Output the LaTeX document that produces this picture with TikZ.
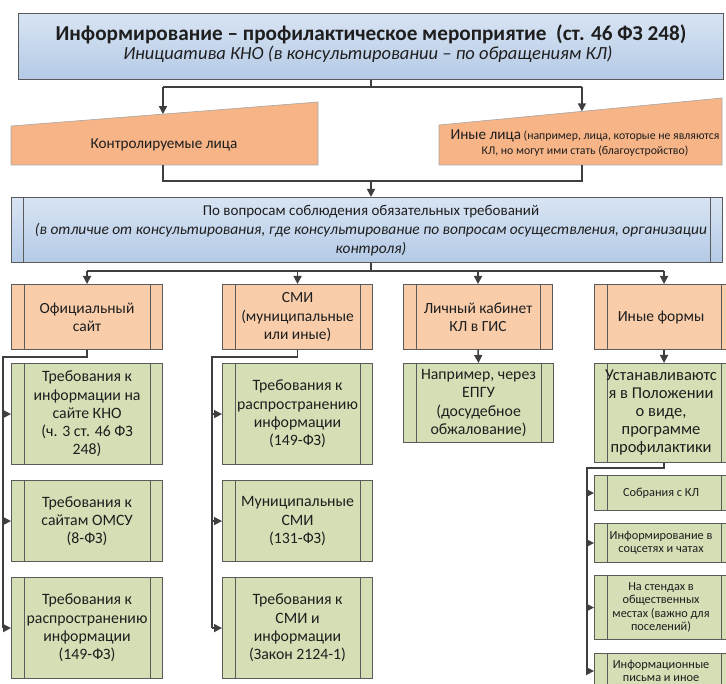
\documentclass[tikz,border=0pt]{standalone}
\usepackage{fontspec}
\setmainfont{Carlito}
\usetikzlibrary{arrows.meta,calc}
\definecolor{lineC}{HTML}{3F3F3F}
\definecolor{blueT}{HTML}{D8E4F3}
\definecolor{blueB}{HTML}{B4CAE6}
\definecolor{trapC}{HTML}{F6B487}
\definecolor{headC}{HTML}{F9CDAA}
\definecolor{greenC}{HTML}{D5DFB5}
\definecolor{txtC}{HTML}{1E1E1E}
\definecolor{bordC}{HTML}{5A5A5A}
\tikzset{
  conn/.style={draw=lineC, line width=1.6pt},
  arr/.style={conn, -{Triangle[length=8pt,width=8pt]}},
  proc/.style={draw=bordC, line width=1.1pt, rectangle, anchor=north west,
    inner sep=0pt, align=center, text=txtC,
    path picture={\draw[bordC, line width=1.1pt]
      ([xshift=12.5pt]path picture bounding box.north west) -- ([xshift=12.5pt]path picture bounding box.south west)
      ([xshift=-12.5pt]path picture bounding box.north east) -- ([xshift=-12.5pt]path picture bounding box.south east);}},
  bluebox/.style={draw=bordC, line width=1.1pt, rectangle, anchor=north west, inner sep=0pt,
    top color=blueT, bottom color=blueB},
  headbox/.style={proc, fill=headC, font={\fontsize{15.5}{18.3}\selectfont}},
  greenbox/.style={proc, fill=greenC, font={\fontsize{15.8}{18.3}\selectfont}},
  smallbox/.style={proc, fill=greenC, font={\fontsize{12.3}{13.5}\selectfont}},
  trap/.style={fill=trapC, draw=gray!70, line width=0.6pt},
  lbl/.style={text=txtC, align=center, inner sep=0pt},
}
\begin{document}
\begin{tikzpicture}[x=1pt, y=-1pt]
\clip (0,0) rectangle (726,684);
% header
\node[bluebox, minimum width=705pt, minimum height=66pt] (hdr) at (18,13) {};
\node[lbl, font={\fontsize{21.2}{23}\selectfont\bfseries}] (title) at (371,34)
  {Информирование – профилактическое мероприятие \ (ст. 46 ФЗ 248)};
\node[lbl, font={\fontsize{18.5}{20}\selectfont\itshape}] (subtitle) at (368,54)
  {Инициатива КНО (в консультировании – по обращениям КЛ)};
% trapezoids
\coordinate (lt1) at (11,126); \coordinate (lt2) at (318,102);
\coordinate (lt3) at (318,165); \coordinate (lt4) at (11,165);
\coordinate (rt1) at (439,125); \coordinate (rt2) at (722,98);
\coordinate (rt3) at (722,165); \coordinate (rt4) at (439,165);
\path[trap] (lt1) -- (lt2) -- (lt3) -- (lt4) -- cycle;
\path[trap] (rt1) -- (rt2) -- (rt3) -- (rt4) -- cycle;
\node[lbl, font={\fontsize{15.2}{18}\selectfont}] (ctrl) at (164,145) {Контролируемые лица};
\node[lbl, font={\fontsize{11.8}{15}\selectfont}] (other) at (585,143.5)
  {{\fontsize{15.2}{15}\selectfont Иные лица} (например, лица, которые не являются\\КЛ, но могут ими стать (благоустройство)};
\coordinate (ltop) at ($(lt1)!0.495!(lt2)$);
\coordinate (rtop) at ($(rt1)!0.505!(rt2)$);
\coordinate (ltb) at ($(lt4)!0.495!(lt3)$);
\coordinate (rtb) at ($(rt4)!0.505!(rt3)$);
\coordinate (j1) at (371,87);
\draw[conn] (j1 |- hdr.south) -- (j1);
\draw[conn] (ltop |- j1) -- (rtop |- j1);
\draw[arr] (ltop |- j1) -- (ltop);
\draw[arr] (rtop |- j1) -- (rtop);
% second blue box
\node[bluebox, minimum width=711pt, minimum height=65pt,
  path picture={\draw[bordC, line width=1.1pt]
      ([xshift=12pt]path picture bounding box.north west) -- ([xshift=12pt]path picture bounding box.south west)
      ([xshift=-12pt]path picture bounding box.north east) -- ([xshift=-12pt]path picture bounding box.south east);}]
  (box2) at (11,197) {};
\node[lbl, font={\fontsize{15}{19}\selectfont}] (box2t) at (371,231)
  {По вопросам соблюдения обязательных требований\\
   \fontsize{15.4}{19}\selectfont\itshape (в отличие от консультирования, где консультирование по вопросам осуществления, организации\\
   \fontsize{15.4}{19}\selectfont\itshape контроля)};
\coordinate (j2) at (371,181);
\draw[conn] (ltb) -- (ltb |- j2) -- (rtb |- j2) -- (rtb);
\draw[arr] (j2) -- (j2 |- box2.north);
% column heads
\node[headbox, minimum width=151pt, minimum height=65pt] (h1) at (11,284) {Официальный\\сайт};
\node[headbox, minimum width=150pt, minimum height=65pt] (h2) at (222,284) {СМИ\\(муниципальные\\или иные)};
\node[headbox, minimum width=149pt, minimum height=65pt] (h3) at (403,284) {Личный кабинет\\КЛ в ГИС};
\node[headbox, minimum width=139pt, minimum height=65pt] (h4) at (594,284) {\hspace*{-6pt}Иные формы};
\coordinate (j3) at (371,271);
\draw[conn] (j2 |- box2.south) -- (j3);
\draw[conn] (h1.north |- j3) -- (h4.north |- j3);
\foreach \h in {h1,h2,h3,h4} \draw[arr] (\h.north |- j3) -- (\h.north);
% column 1
\node[greenbox, minimum width=151pt, minimum height=101pt] (g11) at (11,363)
  {Требования к\\информации на\\сайте КНО\\(ч. 3 ст. 46 ФЗ\\248)};
\node[greenbox, minimum width=151pt, minimum height=81pt] (g12) at (11,480)
  {Требования к\\сайтам ОМСУ\\(8-ФЗ)};
\node[greenbox, minimum width=151pt, minimum height=101pt] (g13) at (11,577)
  {Требования к\\распространению\\информации\\(149-ФЗ)};
\coordinate (c1) at (3,357);
\draw[conn] (h1.south) |- (c1) -- (c1 |- g13.west);
\foreach \g in {g11,g12,g13} \draw[arr] (c1 |- \g.west) -- (\g.west);
% column 2
\node[greenbox, minimum width=150pt, minimum height=101pt] (g21) at (222,363)
  {Требования к\\распространению\\информации\\(149-ФЗ)};
\node[greenbox, minimum width=150pt, minimum height=81pt] (g22) at (222,480)
  {Муниципальные\\СМИ\\(131-ФЗ)};
\node[greenbox, minimum width=150pt, minimum height=101pt] (g23) at (222,577)
  {Требования к\\СМИ и\\информации\\(Закон 2124-1)};
\coordinate (c2) at (212,357);
\draw[conn] (h2.south) |- (c2) -- (c2 |- g23.west);
\foreach \g in {g21,g22,g23} \draw[arr] (c2 |- \g.west) -- (\g.west);
% column 3
\node[greenbox, minimum width=150pt, minimum height=79pt] (g3) at (403,363)
  {Например, через\\ЕПГУ\\(досудебное\\обжалование)};
\draw[arr] (h3.south) -- (g3.north);
% column 4
\node[greenbox, minimum width=139pt, minimum height=99pt, font={\fontsize{16.5}{18}\selectfont}] (g4) at (594,363)
  {\hspace*{-6pt}Устанавливаютс\\\hspace*{-6pt}я в Положении\\\hspace*{-6pt}о виде,\\\hspace*{-6pt}программе\\\hspace*{-6pt}профилактики};
\draw[arr] (h4.south) -- (g4.north);
\node[smallbox, minimum width=139pt, minimum height=35pt] (s1) at (594,475) {\hspace*{-6pt}Собрания с КЛ};
\node[smallbox, minimum width=139pt, minimum height=39pt] (s2) at (594,523) {\hspace*{-6pt}Информирование в\\\hspace*{-6pt}соцсетях и чатах};
\node[smallbox, minimum width=139pt, minimum height=64pt] (s3) at (594,575) {\hspace*{-6pt}На стендах в\\\hspace*{-6pt}общественных\\\hspace*{-6pt}местах (важно для\\\hspace*{-6pt}поселений)};
\node[smallbox, minimum width=139pt, minimum height=35pt] (s4) at (594,653) {\hspace*{-6pt}Информационные\\\hspace*{-6pt}письма и иное};
\coordinate (c4) at (587,468);
\draw[conn] (g4.south) |- (c4) -- (c4 |- s4.west);
\foreach \s in {s1,s2,s3,s4} \draw[arr] (c4 |- \s.west) -- (\s.west);
\end{tikzpicture}
\end{document}
